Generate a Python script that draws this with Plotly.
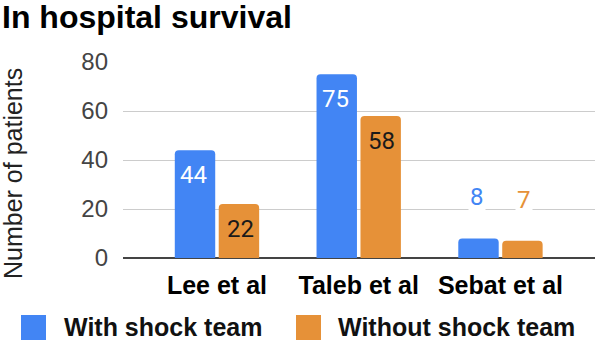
import plotly.graph_objects as go

categories = ["Lee et al", "Taleb et al", "Sebat et al"]
series_names = ["With shock team", "Without shock team"]
with_team = [44, 75, 8]
without_team = [22, 58, 7]
y_ticks = [0, 20, 40, 60, 80]

colors = ["#4285F4", "#E69138"]
inside_text_colors = ["#FFFFFF", "#1A1A1A"]

W, H = 597, 342
ML, MR, MT, MB = 123, 2, 62, 84
PW = W - ML - MR
PH = H - MT - MB

def px_x(x):
    return (x - ML) / PW

def px_y(y):
    return (H - MB - y) / PH

FONT = "Liberation Sans, Arial, sans-serif"

fig = go.Figure()
for name, vals, col in zip(series_names, [with_team, without_team], colors):
    fig.add_trace(go.Bar(
        x=categories, y=vals, name=name,
        marker=dict(color=col, line=dict(width=0), cornerradius=4),
        showlegend=False, hoverinfo="x+y+name",
    ))

# value labels
offset = 0.163
for si, (vals, col, tcol) in enumerate(zip([with_team, without_team], colors, inside_text_colors)):
    for ci, v in enumerate(vals):
        xpos = ci + (-offset if si == 0 else offset)
        if v >= 15:
            fig.add_annotation(x=xpos, y=v, xref="x", yref="y", text=str(v),
                               showarrow=False, yshift=-25,
                               font=dict(family="Roboto, " + FONT, size=24, color=tcol))
        else:
            fig.add_annotation(x=xpos, y=v, xref="x", yref="y", text=str(v),
                               showarrow=False, yshift=41, bgcolor="white",
                               font=dict(family="Roboto, " + FONT, size=24, color=col))

# title
fig.add_annotation(x=px_x(0), y=px_y(17), xref="paper", yref="paper",
                   xanchor="left", yanchor="middle", showarrow=False,
                   text="<b>In hospital survival</b>",
                   font=dict(family=FONT, size=32, color="#000000"))

# y axis title
fig.add_annotation(x=px_x(13), y=px_y(174), xref="paper", yref="paper",
                   xanchor="center", yanchor="middle", showarrow=False, textangle=-90,
                   text="Number of patients",
                   font=dict(family=FONT, size=25, color="#222222"))

# legend (manual)
leg = [(21, 46, 62), (296, 321, 336)]
for (x0, x1, tx), name, col in zip(leg, series_names, colors):
    fig.add_shape(type="rect", xref="paper", yref="paper",
                  x0=px_x(x0), x1=px_x(x1), y0=px_y(340), y1=px_y(315),
                  fillcolor=col, line=dict(width=0))
    fig.add_annotation(x=px_x(tx), y=px_y(327), xref="paper", yref="paper",
                       xanchor="left", yanchor="middle", showarrow=False,
                       text="<b>" + name + "</b>",
                       font=dict(family=FONT, size=25, color="#111111"))

fig.update_layout(
    width=W, height=H,
    margin=dict(l=ML, r=MR, t=MT, b=MB, pad=0),
    paper_bgcolor="white", plot_bgcolor="white",
    barmode="group", bargap=0.38, bargroupgap=0.08,
    font=dict(family=FONT),
    xaxis=dict(range=[-0.663, 2.667], showgrid=False, showline=False, ticks="",
               tickfont=dict(family=FONT, size=25, color="#000000", weight="bold"),
               ticklabelstandoff=10, fixedrange=True),
    yaxis=dict(range=[0, 80], tickvals=y_ticks, showgrid=True, gridcolor="#CCCCCC", gridwidth=1,
               zeroline=True, zerolinecolor="#444444", zerolinewidth=2, showline=False, ticks="",
               tickfont=dict(family=FONT, size=24, color="#444444"),
               ticklabelstandoff=14, fixedrange=True),
)

fig.write_html("out.html", config={"displayModeBar": False},
               post_script="document.body.style.margin='0';document.body.style.overflow='hidden';")
